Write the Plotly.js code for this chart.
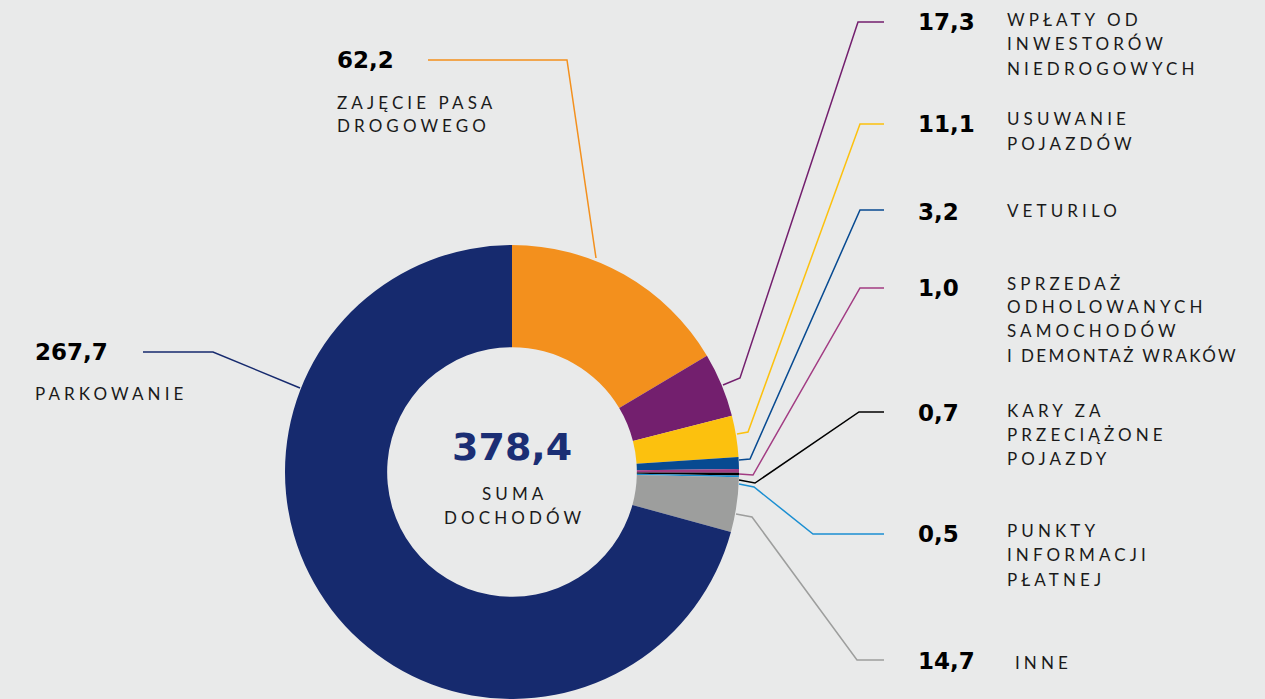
<!DOCTYPE html>
<html><head><meta charset="utf-8">
<script src="https://cdn.plot.ly/plotly-3.0.1.min.js"></script>
<style>html,body{margin:0;padding:0;background:#e9eaea;overflow:hidden}#chart{width:1265px;height:699px}</style>
</head><body><div id="chart"></div>
<script>
// ---- data ----
const categories = ["ZAJĘCIE PASA DROGOWEGO","WPŁATY OD INWESTORÓW NIEDROGOWYCH","USUWANIE POJAZDÓW","VETURILO","SPRZEDAŻ ODHOLOWANYCH SAMOCHODÓW I DEMONTAŻ WRAKÓW","KARY ZA PRZECIĄŻONE POJAZDY","PUNKTY INFORMACJI PŁATNEJ","INNE","PARKOWANIE"];
const values = [62.2, 17.3, 11.1, 3.2, 1.0, 0.7, 0.5, 14.7, 267.7];
const labelLines = [
  ["ZAJĘCIE PASA","DROGOWEGO"],
  ["WPŁATY OD","INWESTORÓW","NIEDROGOWYCH"],
  ["USUWANIE","POJAZDÓW"],
  ["VETURILO"],
  ["SPRZEDAŻ","ODHOLOWANYCH","SAMOCHODÓW","I DEMONTAŻ WRAKÓW"],
  ["KARY ZA","PRZECIĄŻONE","POJAZDY"],
  ["PUNKTY","INFORMACJI","PŁATNEJ"],
  ["INNE"],
  ["PARKOWANIE"]
];
const colors = ["#f3901d","#731f6e","#fcc10e","#074a91","#a23c83","#000000","#1b8fd2","#9d9e9d","#162a6e"];
const totalLines = ["SUMA","DOCHODÓW"];

// ---- layout helpers (pixel positions) ----
const W = 1265, H = 699;
const px = x => x / W, py = y => 1 - y / H;
const cx = 512, cy = 472, R = 227;
const fmt = v => v.toFixed(1).replace('.', ',');

// per-category label placement: number pos, text pos (first line), line pitch, leader path
const place = [
  {nx:335, ny:60,  tx:335,  ty:102, pitch:24, path:[[428,60],[567,60],[596,258]]},
  {nx:916, ny:22,  tx:1005, ty:19,  pitch:24.5, path:[[723,385],[740,378],[858,22],[884,22]]},
  {nx:916, ny:124, tx:1005, ty:119, pitch:24, path:[[737,434],[748,432],[860,124],[884,124]]},
  {nx:916, ny:212, tx:1005, ty:210, pitch:24, path:[[739,460],[750,459],[860,210],[884,210]]},
  {nx:916, ny:288, tx:1005, ty:283, pitch:24, path:[[739,474],[753,475],[860,288],[884,288]]},
  {nx:916, ny:413, tx:1005, ty:410, pitch:24.5, path:[[739,480],[755,483],[859,412],[884,412]]},
  {nx:916, ny:534, tx:1005, ty:530, pitch:24.5, path:[[739,484],[754,487],[813,534],[884,534]]},
  {nx:916, ny:661, tx:1013, ty:662, pitch:24, path:[[736,514],[752,517],[857,660],[884,660]]},
  {nx:33,  ny:352, tx:33,   ty:393, pitch:24, path:[[143,352],[213,352],[300,388]]}
];

const numFont = {family:"DejaVu Sans", size:23, color:"#000"};
const txtFont = {family:"Lato, 'Noto Sans'", size:17, color:"#1a1a1a"};
const sp = (s, ls) => '<span style="letter-spacing:' + ls + 'px">' + s + '</span>';
const spacing = ln => ln.length > 14 ? 2.4 : 4.1;

const annotations = [];
const shapes = [];
values.forEach((v, i) => {
  const p = place[i];
  annotations.push({xref:'paper', yref:'paper', x:px(p.nx), y:py(p.ny), xanchor:'left', yanchor:'middle',
    text:'<b>' + fmt(v) + '</b>', showarrow:false, font:numFont});
  labelLines[i].forEach((ln, k) => {
    annotations.push({xref:'paper', yref:'paper', x:px(p.tx), y:py(p.ty + k * p.pitch), xanchor:'left', yanchor:'middle',
      text:sp(ln, spacing(ln)), showarrow:false, font:txtFont});
  });
  shapes.push({type:'path', xref:'paper', yref:'paper',
    path:'M ' + p.path.map(q => px(q[0]) + ',' + py(q[1])).join(' L '),
    line:{color:colors[i], width:1.5}});
});
const total = values.reduce((a, b) => a + b, 0);
annotations.push({xref:'paper', yref:'paper', x:px(cx), y:py(447), xanchor:'center', yanchor:'middle',
  text:'<b>' + fmt(total) + '</b>', showarrow:false, font:{family:"DejaVu Sans", size:38, color:"#1b2e74"}});
totalLines.forEach((ln, k) => {
  annotations.push({xref:'paper', yref:'paper', x:px(cx + 2), y:py(493 + k * 24), xanchor:'center', yanchor:'middle',
    text:sp(ln, 4.1), showarrow:false, font:txtFont});
});

const trace = {
  type:'pie', labels:categories, values:values, sort:false, direction:'clockwise', rotation:0,
  hole:0.55, textinfo:'none', hoverinfo:'label+value',
  marker:{colors:colors, line:{width:0}},
  domain:{x:[px(cx - R), px(cx + R)], y:[py(cy + R), py(cy - R)]},
  showlegend:false
};

Plotly.newPlot('chart', [trace], {
  width:W, height:H, margin:{l:0, r:0, t:0, b:0},
  paper_bgcolor:'#e9eaea', plot_bgcolor:'#e9eaea',
  annotations:annotations, shapes:shapes, showlegend:false
}, {displayModeBar:false, staticPlot:true});
</script></body></html>
